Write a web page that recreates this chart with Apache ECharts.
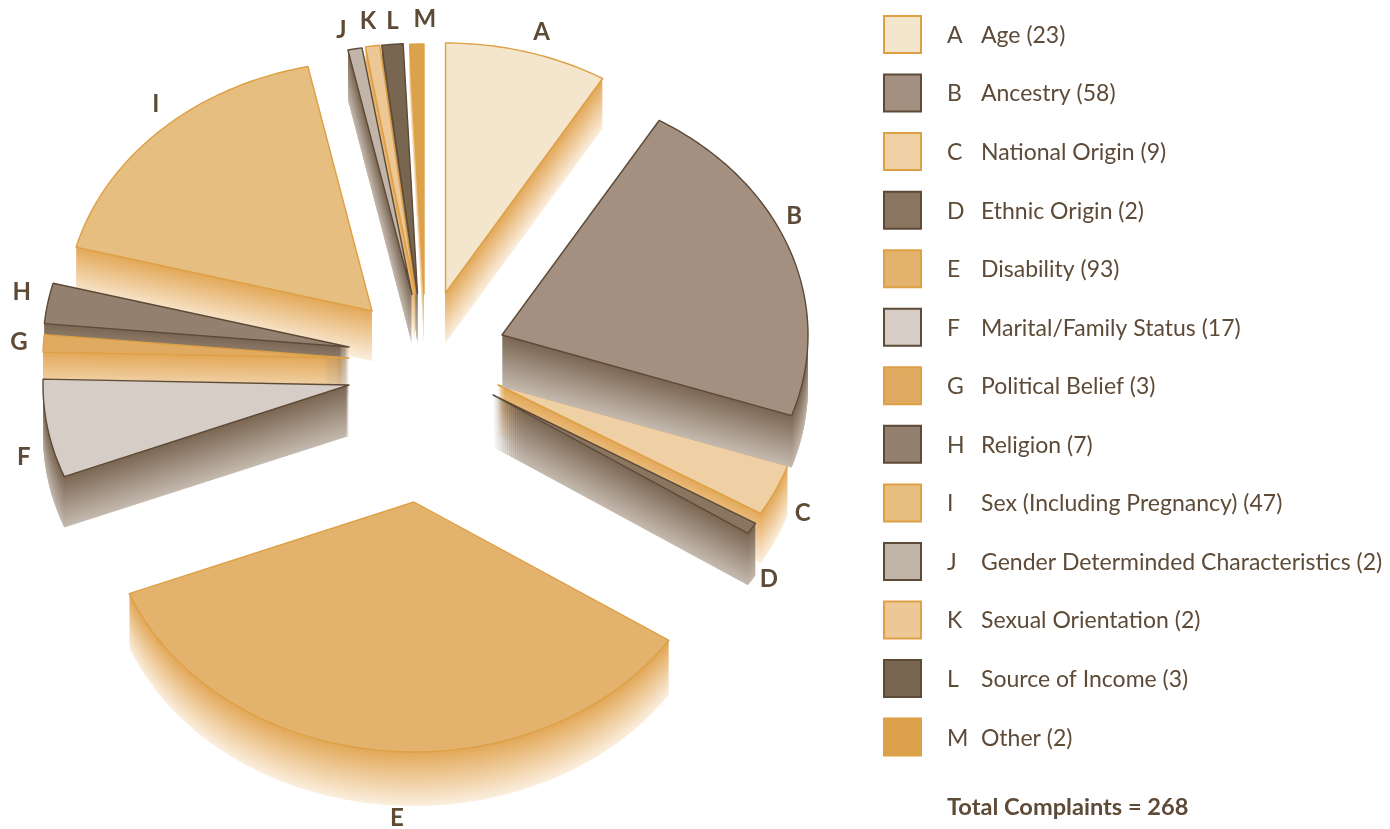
<!DOCTYPE html>
<html>
<head>
<meta charset="utf-8">
<title>Complaints</title>
<script src="https://cdn.jsdelivr.net/npm/echarts@6/dist/echarts.min.js"></script>
<style>
    html, body { margin: 0; padding: 0; background: #fff; }
    #chart { width: 1390px; height: 829px; }
</style>
</head>
<body>
<div id="chart"></div>
<script>
    var letters = ['A', 'B', 'C', 'D', 'E', 'F', 'G', 'H', 'I', 'J', 'K', 'L', 'M'];
    var categories = ['Age', 'Ancestry', 'National Origin', 'Ethnic Origin', 'Disability', 'Marital/Family Status',
        'Political Belief', 'Religion', 'Sex (Including Pregnancy)', 'Gender Determinded Characteristics',
        'Sexual Orientation', 'Source of Income', 'Other'];
    var values = [23, 58, 9, 2, 93, 17, 3, 7, 47, 2, 2, 3, 2];
    var total = 268;

    /* face colours, outline colours */
    var faceColors = ['#f4e5cd', '#a39080', '#efcfa4', '#8a7561', '#e3b36e', '#d6cec6', '#e0ab60',
        '#93806e', '#e6be80', '#c1b5a9', '#edc896', '#796650', '#dca24b'];
    var warm = '#dea044', dark = '#5d4a37';
    var strokeColors = [warm, dark, warm, dark, warm, dark, warm, dark, warm, dark, warm, dark, warm];

    /* where each exploded wedge has its point, and how deep its side is */
    var wedgeTips = [[445.5, 293], [502, 335], [498, 385], [493, 395], [414, 502], [349, 385], [349, 358],
        [349, 347], [372, 311], [412, 294.5], [415.5, 293.5], [417.5, 293.5], [424, 294]];
    var wedgeDepths = [50, 52, 50, 52, 54, 51, 50, 50, 50, 50, 50, 50, 50];
    /* letter position, relative to the middle of the wedge's arc */
    var labelOffsets = [[14.5, -20], [5, -33], [27, 23], [17, 51], [15, 68], [-24, 29], [-24.5, -1],
        [-26, -11], [-5, -26], [-13.6, -19], [-4.5, -25], [0, -23.5], [8, -25]];
    /* back to front, the wedges overlap each other's sides */
    var drawOrder = [0, 2, 3, 1, 4, 12, 11, 10, 9, 8, 7, 6, 5];

    var rx = 306, ry = 250;

    var fontName = 'Lato, "Noto Sans", sans-serif';
    var textColor = '#5d4a37';

    function mix(a, b, t) {
        var out = '#';
        for (var i = 1; i < 7; i += 2) {
            var x = parseInt(a.substr(i, 2), 16), y = parseInt(b.substr(i, 2), 16);
            var c = Math.round(x + (y - x) * t).toString(16);
            out += c.length < 2 ? '0' + c : c;
        }
        return out;
    }

    function startAngle(idx) {
        var sum = 0;
        for (var i = 0; i < idx; i++) sum += values[i];
        return sum / total * Math.PI * 2;
    }

    function wedgePoints(tip, a0, a1, shift) {
        var pts = [[tip[0], tip[1] + shift]];
        var n = Math.max(2, Math.ceil((a1 - a0) / (Math.PI / 180)));
        for (var i = 0; i <= n; i++) {
            var a = a0 + (a1 - a0) * i / n;
            pts.push([tip[0] + Math.sin(a) * rx, tip[1] - Math.cos(a) * ry + shift]);
        }
        return pts;
    }

    function renderWedge(idx, api) {
        var a0 = startAngle(idx);
        var a1 = a0 + api.value(0) / total * Math.PI * 2;
        var tip = wedgeTips[idx];
        var depth = wedgeDepths[idx];
        var isWarm = strokeColors[idx] === warm;
        var sideTop = isWarm ? '#e2a858' : '#7a6652';
        var sideEnd = isWarm ? '#fbeedd' : '#c4b9ae';
        var children = [];

        // the side is a stack of copies, fading out downwards
        for (var d = depth; d > 0; d--) {
            children.push({
                type: 'polygon',
                silent: true,
                shape: { points: wedgePoints(tip, a0, a1, d) },
                style: { fill: mix(sideTop, sideEnd, d / depth) }
            });
        }
        children.push({
            type: 'polygon',
            silent: true,
            shape: { points: wedgePoints(tip, a0, a1, 0) },
            style: { fill: faceColors[idx], stroke: strokeColors[idx], lineWidth: 1.4, lineJoin: 'round' }
        });

        var mid = (a0 + a1) / 2;
        children.push({
            type: 'text',
            silent: true,
            style: {
                text: letters[idx],
                x: tip[0] + Math.sin(mid) * rx + labelOffsets[idx][0],
                y: tip[1] - Math.cos(mid) * ry + labelOffsets[idx][1],
                fill: textColor,
                font: 'bold 24px ' + fontName,
                align: 'center',
                verticalAlign: 'middle'
            }
        });
        return { type: 'group', children: children };
    }

    var myChart = echarts.init(document.getElementById('chart'), null, { renderer: 'canvas' });

    var option = {
        animation: false,
        backgroundColor: '#fff',
        title: {
            text: 'Total Complaints = ' + total,
            left: 947,
            top: 795,
            padding: 0,
            textStyle: { color: textColor, fontFamily: fontName, fontSize: 23.6, fontWeight: 'bold' }
        },
        legend: {
            left: 883,
            top: 15,
            padding: 0,
            orient: 'vertical',
            itemWidth: 37,
            itemHeight: 37,
            itemGap: 19.55,
            selectedMode: false,
            data: categories.map(function (name, i) {
                return {
                    name: name,
                    icon: 'rect',
                    itemStyle: { color: faceColors[i], borderColor: strokeColors[i], borderWidth: 2 }
                };
            }),
            formatter: function (name) {
                var i = categories.indexOf(name);
                return '{k|' + letters[i] + '}{n|' + name + ' (' + values[i] + ')}';
            },
            textStyle: {
                rich: {
                    k: { color: textColor, fontFamily: fontName, fontSize: 23, width: 34, padding: [2, 0, 0, 21] },
                    n: { color: textColor, fontFamily: fontName, fontSize: 23, padding: [2, 0, 0, 0] }
                }
            }
        },
        series: drawOrder.map(function (idx) {
            return {
                type: 'custom',
                name: categories[idx],
                coordinateSystem: 'none',
                silent: true,
                clip: false,
                itemStyle: { color: faceColors[idx] },
                data: [[values[idx]]],
                renderItem: function (params, api) {
                    return renderWedge(idx, api);
                }
            };
        })
    };

    myChart.setOption(option);
</script>
</body>
</html>
